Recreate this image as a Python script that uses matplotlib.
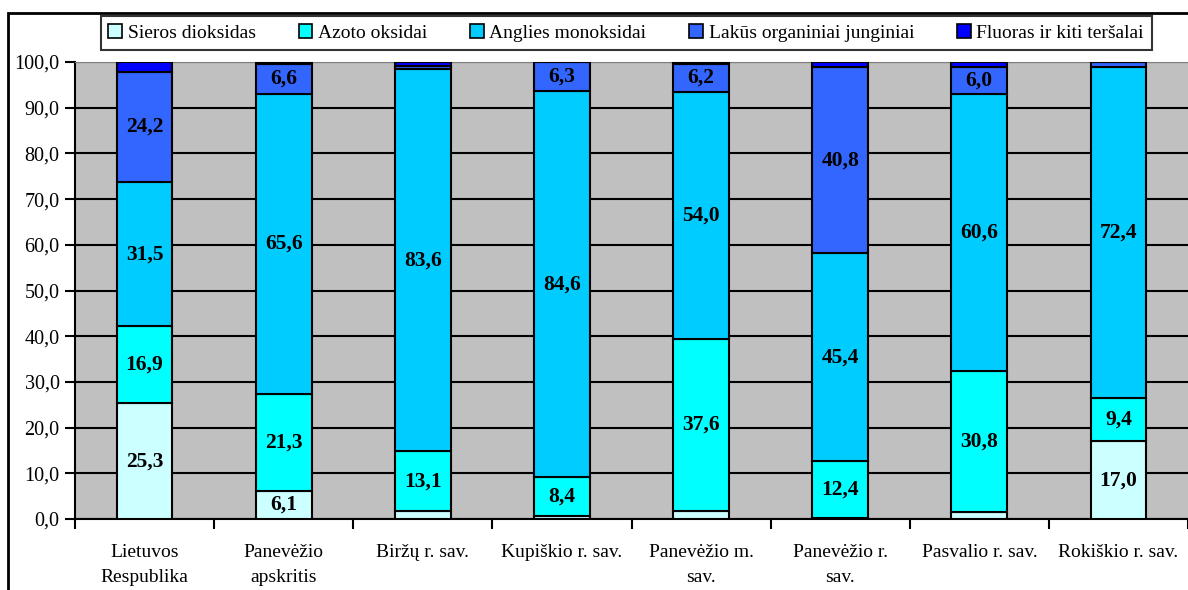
import numpy as np
import matplotlib
matplotlib.use("Agg")
import matplotlib.pyplot as plt
from matplotlib.patches import Patch, Rectangle

plt.rcParams['font.family'] = ['Liberation Serif', 'DejaVu Serif']

# duomenys
vietoves = ["Lietuvos\nRespublika", "Panevėžio\napskritis", "Biržų r. sav.",
            "Kupiškio r. sav.", "Panevėžio m.\nsav.", "Panevėžio r.\nsav.",
            "Pasvalio r. sav.", "Rokiškio r. sav."]
serijos = ["Sieros dioksidas", "Azoto oksidai", "Anglies monoksidai",
           "Lakūs organiniai junginiai", "Fluoras ir kiti teršalai"]
sieros = [25.3, 6.1, 1.7, 0.7, 1.8, 0.3, 1.5, 17.0]
azoto = [16.9, 21.3, 13.1, 8.4, 37.6, 12.4, 30.8, 9.4]
anglies = [31.5, 65.6, 83.6, 84.6, 54.0, 45.4, 60.6, 72.4]
lakus = [24.2, 6.6, 0.7, 6.3, 6.2, 40.8, 6.0, 1.2]
fluoras = [2.1, 0.4, 0.9, 0.0, 0.4, 1.1, 1.1, 0.0]
spalvos = ["#CCFFFF", "#00FFFF", "#00CCFF", "#3366FF", "#0000FF"]

fig = plt.figure(figsize=(11.88, 5.90), dpi=100)
ax = fig.add_axes([75/1188, 1-519/590, 1-75/1188, (519-62)/590])
ax.set_facecolor("#C0C0C0")

x = np.arange(len(vietoves))
apacia = np.zeros(len(vietoves))
for reiksmes, spalva in zip([sieros, azoto, anglies, lakus, fluoras], spalvos):
    r = np.array(reiksmes)
    ax.bar(x, r, bottom=apacia, width=0.4, color=spalva, edgecolor="black",
           linewidth=1.5, zorder=3)
    for xi, b, v in zip(x, apacia, r):
        if v >= 5:
            ax.text(xi, b + v/2, f"{v:.1f}".replace(".", ","), ha="center",
                    va="center", fontsize=15.5, fontweight="bold", zorder=4)
    apacia += r

ax.set_xlim(-0.5, len(vietoves) - 0.5)
ax.set_ylim(0, 100)
ax.set_yticks(np.arange(0, 101, 10))
ax.set_yticklabels([f"{v:.1f}".replace(".", ",") for v in np.arange(0, 101, 10)],
                   fontsize=14.5)
ax.yaxis.grid(True, color="black", linewidth=1.5, zorder=1)
ax.set_axisbelow(True)

ax.set_xticks(x)
ax.set_xticklabels(vietoves, fontsize=14, linespacing=1.6)
ax.set_xticks(np.arange(-0.5, len(vietoves)), minor=True)
ax.tick_params(axis="x", which="major", length=0, pad=18)
ax.tick_params(axis="x", which="minor", length=7, width=1.5, direction="out")
ax.tick_params(axis="y", length=7, width=1.5, direction="out", pad=4)

ax.spines["top"].set_color("#808080")
ax.spines["right"].set_visible(False)
ax.spines["left"].set_linewidth(1.5)
ax.spines["bottom"].set_linewidth(1.5)

rankenos = [Patch(facecolor=c, edgecolor="black", linewidth=1.2) for c in spalvos]
leg = fig.legend(rankenos, serijos, loc="center", bbox_to_anchor=(0.527, 0.944),
                 ncol=5, fontsize=14, frameon=True, fancybox=False,
                 edgecolor="black", handlelength=0.7, handleheight=0.7,
                 handletextpad=0.3, columnspacing=2.2, borderpad=0.4)
leg.get_frame().set_linewidth(1.5)

# remelis aplink paveiksla
fig.add_artist(Rectangle((8/1188, -0.1), 1.2, 1 - 13/590 + 0.1,
                         transform=fig.transFigure, fill=False,
                         edgecolor="black", linewidth=2))

fig.savefig("out.png", dpi=100)
